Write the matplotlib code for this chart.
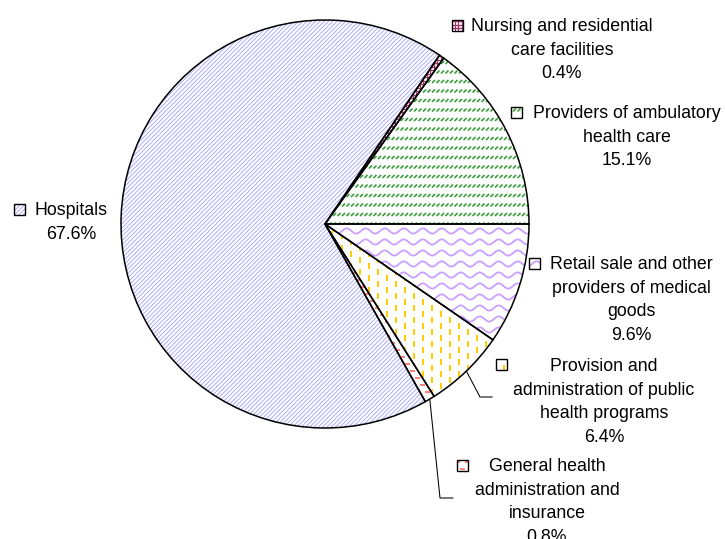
import numpy as np
import matplotlib
matplotlib.use("Agg")
import matplotlib.pyplot as plt
from matplotlib.collections import LineCollection
from matplotlib.patches import Rectangle

plt.rcParams['font.family'] = ['Liberation Sans', 'DejaVu Sans']

# data, in pie order (counter-clockwise from 3 o'clock)
sectors = ["Providers of ambulatory\nhealth care",
           "Nursing and residential\ncare facilities",
           "Hospitals",
           "General health\nadministration and\ninsurance",
           "Provision and\nadministration of public\nhealth programs",
           "Retail sale and other\nproviders of medical\ngoods"]
shares = [15.1, 0.4, 67.6, 0.8, 6.4, 9.6]

colors = ['#3a9e3a', '#993366', '#a6a6ff', '#ff8080', '#ffcc00', '#c9a0ff']
patterns = ['dashdiag', 'grid', 'diag', 'hdash', 'vdash', 'wave']
pat_lw = {'diag': 0.65, 'dashdiag': 1.2, 'grid': 0.9, 'hdash': 1.5, 'vdash': 1.4, 'wave': 1.3}

# layout in pixels (screen coords, y down)
W, H = 725, 539
CX, CY, R = 325, 224, 204
label_pos = [(627, 112), (562, 25), (71, 209), (547, 465), (604, 365), (631, 263)]
marker_pos = [(517, 112), (458, 25), (19.5, 209), (463, 465), (502, 364), (535, 263)]
leader_ends = {3: [(440, 498), (453, 498)], 4: [(480, 397), (492, 397)]}
LINE_H = 23.4
FS = 12.75


def yy(y):
    return H - y


def pattern_segments(kind, x0, y0, x1, y1):
    segs = []
    if kind == 'diag':
        step = 4.3
        for c in np.arange(np.floor((y0 - x1) / step) * step - step, y1 - x0 + step, step):
            segs.append([(x0, x0 + c), (x1, x1 + c)])
    elif kind == 'dashdiag':
        for yr in np.arange(np.floor(y0 / 9.5) * 9.5 - 9.5, y1 + 9.5, 9.5):
            for xs in np.arange(np.floor(x0 / 4.5) * 4.5 - 4.5, x1 + 4.5, 4.5):
                segs.append([(xs, yr), (xs + 3, yr + 3)])
    elif kind == 'grid':
        for v in np.arange(np.floor(y0 / 3.5) * 3.5, y1 + 3.5, 3.5):
            segs.append([(x0, v), (x1, v)])
        for v in np.arange(np.floor(x0 / 3.5) * 3.5, x1 + 3.5, 3.5):
            segs.append([(v, y0), (v, y1)])
    elif kind == 'vdash':
        for xc in np.arange(np.floor(x0 / 9) * 9 - 9, x1 + 9, 9):
            off = 6 if int(round(xc / 9)) % 2 else 0
            for yr in np.arange(np.floor(y0 / 12) * 12 - 12 + off, y1 + 12, 12):
                segs.append([(xc, yr), (xc, yr + 6.5)])
    elif kind == 'hdash':
        for yr in np.arange(np.floor(y0 / 7) * 7 - 7, y1 + 7, 7):
            off = 5 if int(round(yr / 7)) % 2 else 0
            for xs in np.arange(np.floor(x0 / 10) * 10 - 10 + off, x1 + 10, 10):
                segs.append([(xs, yr), (xs + 5, yr)])
    elif kind == 'wave':
        xs = np.arange(x0 - 2, x1 + 2, 1.0)
        for yr in np.arange(np.floor(y0 / 11) * 11 - 11, y1 + 11, 11):
            segs.append(np.column_stack([xs, yr + 2.6 * np.sin(2 * np.pi * xs / 19)]))
    return segs


def fill_pattern(ax, patch, kind, color, bbox, z):
    lc = LineCollection(pattern_segments(kind, *bbox), colors=color,
                        linewidths=pat_lw[kind], zorder=z)
    ax.add_collection(lc)
    lc.set_clip_path(patch.get_path(), patch.get_transform())


fig = plt.figure(figsize=(W / 100, H / 100), dpi=100)
ax = fig.add_axes([0, 0, 1, 1])

base, _ = ax.pie(shares, startangle=0, counterclock=True, center=(CX, yy(CY)),
                 radius=R, colors=['white'] * len(shares),
                 wedgeprops=dict(linewidth=0, zorder=1))
for w, kind, col in zip(base, patterns, colors):
    fill_pattern(ax, w, kind, col, (CX - R, yy(CY) - R, CX + R, yy(CY) + R), 2)

ax.pie(shares, startangle=0, counterclock=True, center=(CX, yy(CY)), radius=R,
       wedgeprops=dict(fill=False, edgecolor='black', linewidth=1.1, zorder=3))

# leader lines
for i, ends in leader_ends.items():
    w = base[i]
    mid = np.deg2rad((w.theta1 + w.theta2) / 2)
    xs = [CX + R * np.cos(mid)] + [p[0] for p in ends]
    ys = [yy(CY) + R * np.sin(mid)] + [yy(p[1]) for p in ends]
    ax.plot(xs, ys, color='black', lw=0.75, zorder=4)

# labels with little pattern markers
for name, val, (lx, ly), (mx, my), kind, col in zip(sectors, shares, label_pos,
                                                     marker_pos, patterns, colors):
    lines = name.split('\n') + [f"{val:.1f}%"]
    for i, line in enumerate(lines):
        ax.text(lx, yy(ly + i * LINE_H + 6.4), line, ha='center', va='baseline',
                fontsize=FS, color='black', zorder=5)
    s = 11
    box = Rectangle((mx - s / 2, yy(my) - s / 2), s, s, facecolor='white',
                    edgecolor='none', zorder=5)
    ax.add_patch(box)
    fill_pattern(ax, box, kind, col, (mx - s, yy(my) - s, mx + s, yy(my) + s), 6)
    ax.add_patch(Rectangle((mx - s / 2, yy(my) - s / 2), s, s, fill=False,
                           edgecolor='black', linewidth=1.0, zorder=7))

ax.set_xlim(0, W)
ax.set_ylim(0, H)
ax.set_aspect('equal')
ax.axis('off')

fig.savefig('out.png', dpi=100)
